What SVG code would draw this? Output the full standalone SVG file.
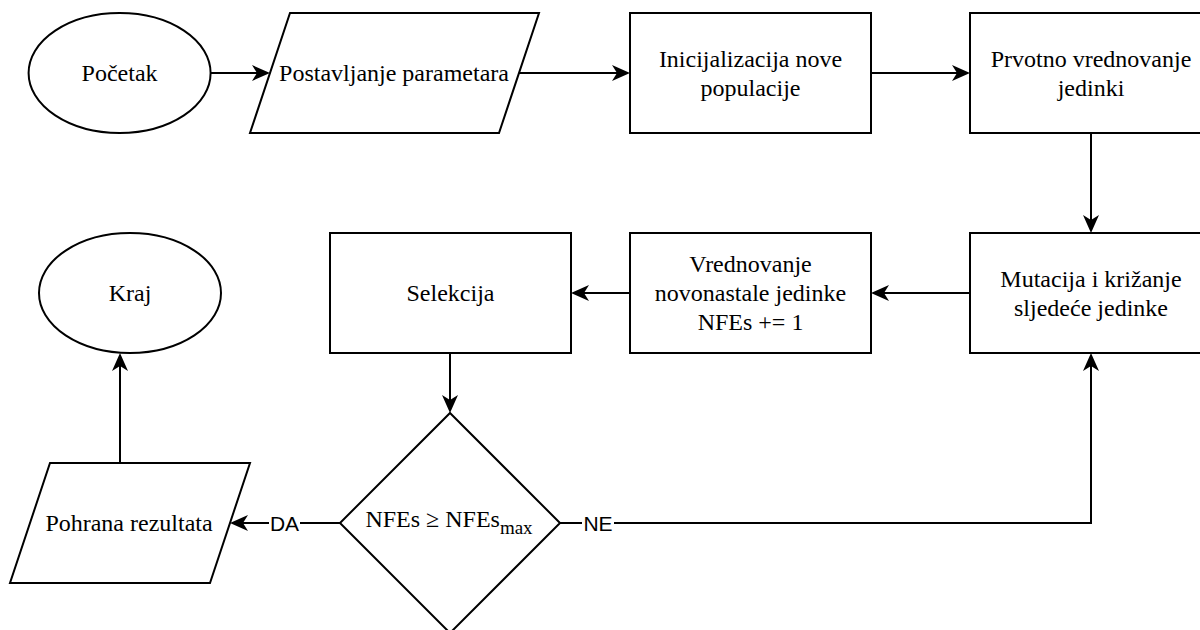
<svg xmlns="http://www.w3.org/2000/svg" width="1200" height="630" viewBox="0 0 1200 630">
<style>
.shape{fill:#fff;stroke:#000;stroke-width:2}
.t{font-family:"Liberation Serif","Times New Roman",serif;font-size:24px;fill:#000;text-anchor:middle}
.lbl{font-family:"Liberation Sans",Arial,sans-serif;font-size:21px;fill:#000;text-anchor:middle}
.edge{fill:none;stroke:#000;stroke-width:2;marker-end:url(#arr)}
</style>
<defs>
<marker id="arr" viewBox="0 0 18 16" refX="5" refY="8" markerWidth="18" markerHeight="16" markerUnits="userSpaceOnUse" orient="auto">
<path d="M0,0 L18,8 L0,16 L5,8 Z" fill="#000" stroke="none"/>
</marker>
</defs>
<rect width="1200" height="630" fill="#fff"/>
<g id="connectors">
<path class="edge" d="M210,73 H257"/>
<path class="edge" d="M519,73 H617"/>
<path class="edge" d="M871,73 H957"/>
<path class="edge" d="M1091,133 V220"/>
<path class="edge" d="M970,293 H884"/>
<path class="edge" d="M630,293 H584"/>
<path class="edge" d="M450,353 V400"/>
<path class="edge" d="M340,523 H243"/>
<path class="edge" d="M120,463 V366"/>
<path class="edge" d="M560,523 H1091 V366"/>
<rect x="269" y="511" width="31" height="24" fill="#fff"/>
<text class="lbl" x="284.5" y="530.5">DA</text>
<rect x="582" y="511" width="32" height="24" fill="#fff"/>
<text class="lbl" x="598" y="530.5">NE</text>
</g>
<g id="pocetak">
<ellipse class="shape" cx="119.6" cy="73" rx="91" ry="60"/>
<text class="t" x="119.6" y="81">Početak</text>
</g>
<g id="postavljanje">
<polygon class="shape" points="290,13 539,13 499,133 250,133"/>
<text class="t" x="394" y="81">Postavljanje parametara</text>
</g>
<g id="inicijalizacija">
<rect class="shape" x="630" y="13" width="241" height="120"/>
<text class="t" x="750.5" y="66.7">Inicijalizacija nove</text>
<text class="t" x="750.5" y="95.5">populacije</text>
</g>
<g id="prvotno">
<rect class="shape" x="970" y="13" width="242" height="120"/>
<text class="t" x="1091" y="66.7">Prvotno vrednovanje</text>
<text class="t" x="1091" y="95.5">jedinki</text>
</g>
<g id="mutacija">
<rect class="shape" x="970" y="233" width="242" height="120"/>
<text class="t" x="1091" y="286.7">Mutacija i križanje</text>
<text class="t" x="1091" y="315.5">sljedeće jedinke</text>
</g>
<g id="vrednovanje">
<rect class="shape" x="630" y="233" width="241" height="120"/>
<text class="t" x="750.5" y="272.3">Vrednovanje</text>
<text class="t" x="750.5" y="301.1">novonastale jedinke</text>
<text class="t" x="750.5" y="329.9">NFEs += 1</text>
</g>
<g id="selekcija">
<rect class="shape" x="330" y="233" width="241" height="120"/>
<text class="t" x="450.5" y="301">Selekcija</text>
</g>
<g id="uvjet">
<polygon class="shape" points="450,413 560,523 450,633 340,523"/>
<text class="t" x="449" y="527">NFEs ≥ NFEs<tspan dy="7" font-size="19">max</tspan></text>
</g>
<g id="pohrana">
<polygon class="shape" points="50,463 250,463 210,583 10,583"/>
<text class="t" x="129" y="531">Pohrana rezultata</text>
</g>
<g id="kraj">
<ellipse class="shape" cx="130" cy="293" rx="91" ry="60"/>
<text class="t" x="130" y="301">Kraj</text>
</g>
</svg>
